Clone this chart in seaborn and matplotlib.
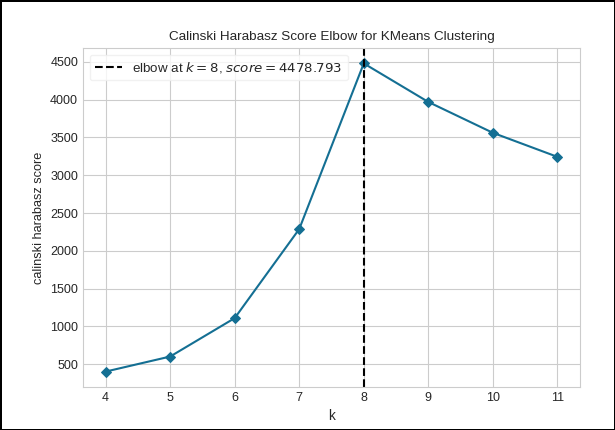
import matplotlib
matplotlib.use("Agg")
import matplotlib.pyplot as plt
import seaborn as sns
import pandas as pd

k_values = [4, 5, 6, 7, 8, 9, 10, 11]
scores = [403, 602, 1110, 2288, 4478.793, 3969, 3561, 3243]
elbow_k = 8
elbow_score = 4478.793
title = "Calinski Harabasz Score Elbow for KMeans Clustering"
xlabel = "k"
ylabel = "calinski harabasz score"
line_color = "#146f93"

sns.set_style("whitegrid", {
    "axes.edgecolor": "#cccccc",
    "grid.color": "#cccccc",
    "axes.linewidth": 1.0,
})
plt.rcParams['font.family'] = ['Liberation Sans', 'DejaVu Sans']

df = pd.DataFrame({"k": k_values, "score": scores})

fig = plt.figure(figsize=(6.15, 4.3), dpi=100)
fig.patch.set_edgecolor("black")
fig.patch.set_linewidth(2)
ax = fig.add_axes([83/615, 1-387/430, (580-83)/615, (387-48)/430])

sns.lineplot(data=df, x="k", y="score", ax=ax, color=line_color, marker="D",
             markersize=5.5, markeredgecolor=line_color, linewidth=1.5)
ax.axvline(elbow_k, color="black", linestyle="--", linewidth=1.5,
           label="elbow at $k={}$, $score={:0.3f}$".format(elbow_k, elbow_score))

ax.set_title(title, fontsize=9.7, color="#262626")
ax.set_xlabel(xlabel, fontsize=9.8, color="#262626")
ax.set_ylabel(ylabel, fontsize=9.2, color="#262626")
ax.tick_params(axis="both", labelsize=9, colors="#262626", length=0)
ax.set_xticks(k_values)
ax.set_yticks([500, 1000, 1500, 2000, 2500, 3000, 3500, 4000, 4500])
leg = ax.legend(loc="upper left", fontsize=9.6, frameon=True, facecolor="white",
                edgecolor="#eeeeee", framealpha=0.8)
fig.savefig("out.png", dpi=100)
